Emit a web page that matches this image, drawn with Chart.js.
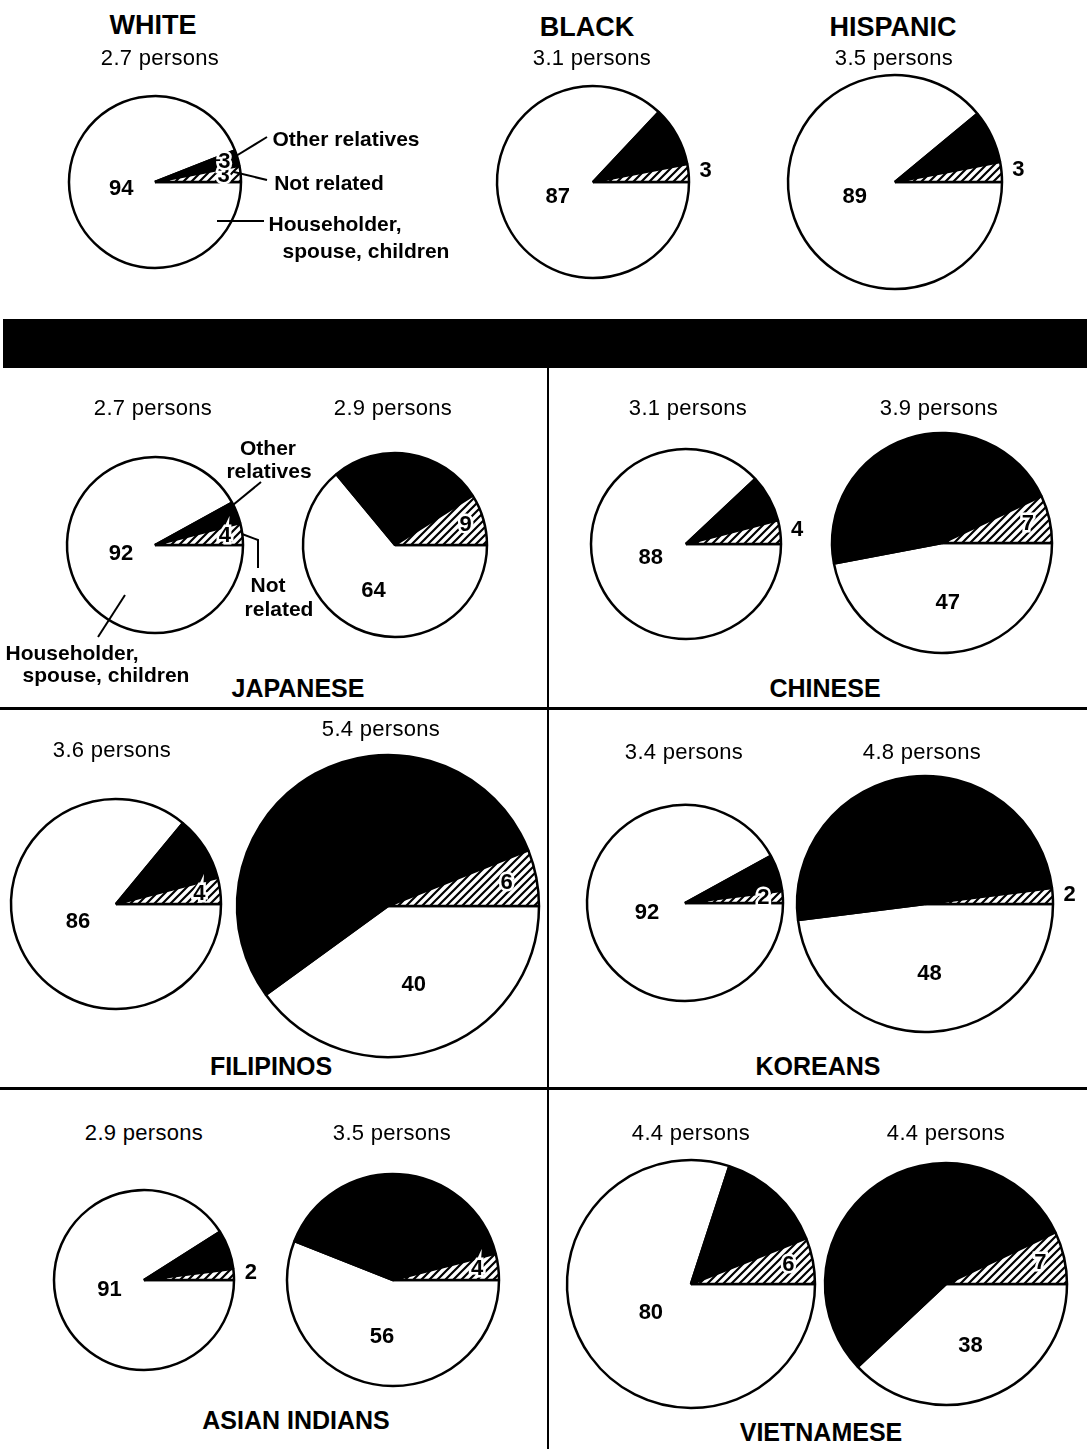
<!DOCTYPE html>
<html>
<head>
<meta charset="utf-8">
<script src="https://cdn.jsdelivr.net/npm/chart.js@4.4.1/dist/chart.umd.min.js"></script>
<style>
  body { margin: 0; background: #fff; }
  #page { position: relative; width: 1087px; height: 1449px; overflow: hidden; background: #fff;
          font-family: "Liberation Sans", Arial, Helvetica, sans-serif; color: #000; }
  .txt { position: absolute; transform: translate(-50%, -50%); white-space: nowrap; line-height: 1; }
  .ttl { font-weight: bold; }
  .per { font-size: 22px; letter-spacing: 0.3px; }
  .note { font-weight: bold; font-size: 21px; }
  .pie { position: absolute; }
  .rule { position: absolute; background: #000; }
</style>
</head>
<body>
<div id="page">
  <div class="rule" style="left:3px;top:319px;width:1084px;height:49px;"></div>
  <div class="rule" style="left:547px;top:368px;width:2px;height:1081px;"></div>
  <div class="rule" style="left:0;top:707px;width:1087px;height:3px;"></div>
  <div class="rule" style="left:0;top:1087px;width:1087px;height:3px;"></div>
</div>
<script>
// groups and their title placement
const groups = ['WHITE', 'BLACK', 'HISPANIC', 'JAPANESE', 'CHINESE', 'FILIPINOS', 'KOREANS', 'ASIAN INDIANS', 'VIETNAMESE'];
const segmentLabels = ['Householder, spouse, children', 'Other relatives', 'Not related'];

// one entry per pie
const pieGroup = [0, 1, 2, 3, 3, 4, 4, 5, 5, 6, 6, 7, 7, 8, 8];
const personsPerHousehold = [2.7, 3.1, 3.5, 2.7, 2.9, 3.1, 3.9, 3.6, 5.4, 3.4, 4.8, 2.9, 3.5, 4.4, 4.4];
const householderSpouseChildren = [94, 87, 89, 92, 64, 88, 47, 86, 40, 92, 48, 91, 56, 80, 38];
const otherRelatives = [3, 10, 8, 4, 27, 8, 46, 10, 54, 6, 50, 7, 40, 14, 55];
const notRelated = [3, 3, 3, 4, 9, 4, 7, 4, 6, 2, 2, 2, 4, 6, 7];

// layout (page pixels)
const titlePos = [[153, 25, 27], [587, 27, 27], [893, 27, 27], [298, 688, 25], [825, 688, 25],
                  [271, 1066, 25], [818, 1066, 25], [296, 1420, 25], [821, 1432, 25]];
const pieLayout = [
  {x: 155, y: 182, r: 86, out: false, other: true, px: 160, py: 58},
  {x: 593, y: 182, r: 96, out: true, px: 592, py: 58},
  {x: 895, y: 182, r: 107, out: true, px: 894, py: 58},
  {x: 155, y: 545, r: 88, out: false, px: 153, py: 408},
  {x: 395, y: 545, r: 92, out: false, px: 393, py: 408},
  {x: 686, y: 544, r: 95, out: true, px: 688, py: 408},
  {x: 942, y: 543, r: 110, out: false, px: 939, py: 408},
  {x: 116, y: 904, r: 105, out: false, px: 112, py: 750},
  {x: 388, y: 906, r: 151, out: false, px: 381, py: 729},
  {x: 685, y: 903, r: 98, out: false, px: 684, py: 752},
  {x: 925, y: 904, r: 128, out: true, px: 922, py: 752},
  {x: 144, y: 1280, r: 90, out: true, px: 144, py: 1133},
  {x: 393, y: 1280, r: 106, out: false, px: 392, py: 1133},
  {x: 691, y: 1284, r: 124, out: false, px: 691, py: 1133},
  {x: 946, y: 1284, r: 121, out: false, px: 946, py: 1133}
];

const page = document.getElementById('page');
const FONT = '"Liberation Sans", Arial, Helvetica, sans-serif';

function addText(text, x, y, cls, style) {
    const d = document.createElement('div');
    d.className = 'txt ' + cls;
    d.textContent = text;
    d.style.left = x + 'px';
    d.style.top = y + 'px';
    if (style) d.style.cssText += style;
    page.appendChild(d);
    return d;
}

groups.forEach((g, i) => {
    addText(g, titlePos[i][0], titlePos[i][1], 'ttl', 'font-size:' + titlePos[i][2] + 'px;');
});

function hatchPattern(ctx) {
    const c = document.createElement('canvas');
    c.width = 8; c.height = 8;
    const g = c.getContext('2d');
    g.fillStyle = '#fff';
    g.fillRect(0, 0, 8, 8);
    g.strokeStyle = '#000';
    g.lineWidth = 2.2;
    g.beginPath();
    g.moveTo(-1, 9); g.lineTo(9, -1);
    g.moveTo(-3, 3); g.lineTo(3, -3);
    g.moveTo(5, 11); g.lineTo(11, 5);
    g.stroke();
    return ctx.createPattern(c, 'repeat');
}

// draws the printed percentages on each pie
const valueLabels = {
    id: 'valueLabels',
    afterDatasetsDraw(chart, args, opts) {
        const arcs = chart.getDatasetMeta(0).data;
        const vals = chart.data.datasets[0].data;
        const ctx = chart.ctx;
        ctx.save();
        ctx.font = 'bold 22px ' + FONT;
        ctx.textAlign = 'center';
        ctx.textBaseline = 'middle';
        ctx.fillStyle = '#000';

        const put = (arc, f, val, halo) => {
            const mid = (arc.startAngle + arc.endAngle) / 2;
            const rr = f < 0 ? arc.outerRadius - f : arc.outerRadius * f;
            const x = arc.x + Math.cos(mid) * rr;
            const y = arc.y + Math.sin(mid) * rr;
            if (halo) {
                ctx.lineWidth = 5;
                ctx.strokeStyle = '#fff';
                ctx.strokeText(val, x, y);
            }
            ctx.fillText(val, x, y);
        };

        put(arcs[0], vals[0] > 75 ? 0.4 : 0.55, vals[0], false);
        if (opts.out) put(arcs[2], -17, vals[2], false);
        else put(arcs[2], 0.8, vals[2], true);
        if (opts.other) put(arcs[1], 0.84, vals[1], true);
        ctx.restore();
    }
};

pieLayout.forEach((L, i) => {
    const R = L.r + 40;
    const wrap = document.createElement('div');
    wrap.className = 'pie';
    wrap.style.left = (L.x - R) + 'px';
    wrap.style.top = (L.y - R) + 'px';
    wrap.style.width = (2 * R) + 'px';
    wrap.style.height = (2 * R) + 'px';
    const canvas = document.createElement('canvas');
    wrap.appendChild(canvas);
    page.appendChild(wrap);

    addText(personsPerHousehold[i].toFixed(1) + ' persons', L.px, L.py, 'per');

    const ctx = canvas.getContext('2d');
    new Chart(canvas, {
        type: 'pie',
        data: {
            labels: segmentLabels,
            datasets: [{
                data: [householderSpouseChildren[i], otherRelatives[i], notRelated[i]],
                backgroundColor: ['#fff', '#000', hatchPattern(ctx)],
                borderColor: '#000',
                borderWidth: 2.5,
                radius: L.r,
                rotation: 90
            }]
        },
        options: {
            responsive: true,
            maintainAspectRatio: false,
            animation: false,
            events: [],
            layout: { padding: 0 },
            plugins: {
                legend: { display: false },
                tooltip: { enabled: false },
                valueLabels: { out: L.out, other: !!L.other }
            }
        },
        plugins: [valueLabels]
    });
});

// callouts naming the three slices
addText('Other relatives', 346, 138, 'note');
addText('Not related', 329, 182, 'note');
addText('Householder,', 335, 223, 'note');
addText('spouse, children', 366, 250, 'note');
addText('Other', 268, 447, 'note');
addText('relatives', 269, 470, 'note');
addText('Not', 268, 584, 'note');
addText('related', 279, 608, 'note');
addText('Householder,', 72, 652, 'note');
addText('spouse, children', 106, 674, 'note');

const svgNS = 'http://www.w3.org/2000/svg';
const svg = document.createElementNS(svgNS, 'svg');
svg.setAttribute('width', 1087);
svg.setAttribute('height', 1449);
svg.style.position = 'absolute';
svg.style.left = '0';
svg.style.top = '0';
const leaders = [
    'M236,156 L267,137',
    'M234,172 L267,180',
    'M217,221 L264,221',
    'M233,505 L261,482',
    'M242,534 L258,540 L258,568',
    'M125,595 L98,637'
];
leaders.forEach(d => {
    const p = document.createElementNS(svgNS, 'path');
    p.setAttribute('d', d);
    p.setAttribute('fill', 'none');
    p.setAttribute('stroke', '#000');
    p.setAttribute('stroke-width', '2');
    svg.appendChild(p);
});
page.appendChild(svg);
</script>
</body>
</html>
